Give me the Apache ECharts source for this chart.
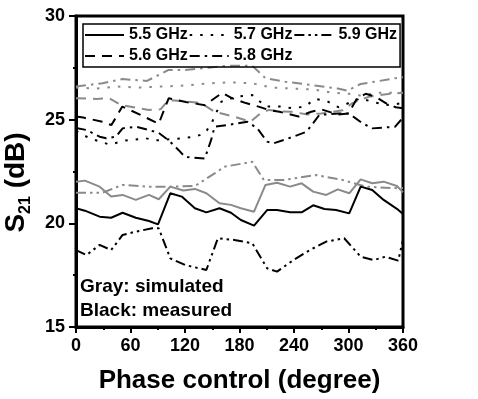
<!DOCTYPE html>
<html>
<head>
<meta charset="utf-8">
<script src="https://cdn.jsdelivr.net/npm/echarts@6/dist/echarts.min.js"></script>
<style>
  html, body { margin: 0; padding: 0; background: #fff; }
  #chart { width: 478px; height: 399px; }
</style>
</head>
<body>
<div id="chart"></div>
<script>
// [phase (deg), S21 (dB)]
const meas55 = [[0,20.73],[9.8,20.61],[26,20.32],[38.7,20.27],[51.3,20.51],[65.8,20.27],[80.3,20.11],[90.3,19.95],[103.8,21.45],[116.4,21.29],[130.9,20.73],[143.5,20.53],[158,20.73],[170.6,20.51],[181.5,20.16],[196,19.89],[210.4,20.64],[221.3,20.64],[235.7,20.53],[248.4,20.53],[261.1,20.87],[273.6,20.69],[286.3,20.64],[300.8,20.48],[313.4,21.77],[326.1,21.61],[338.7,21.13],[353.3,20.7],[360,20.45]]
const sim55 = [[0,22.01],[9.8,22.06],[26,21.77],[38.7,21.29],[51.3,21.37],[65.8,21.13],[80.3,21.37],[91.1,21.16],[103.8,21.77],[118.2,21.58],[130.9,21.66],[143.5,21.45],[158,20.97],[170.6,20.89],[181.5,20.73],[196,20.56],[208.6,21.85],[221.3,21.96],[235.7,21.77],[248.4,21.93],[261.1,21.53],[275.5,21.37],[288.2,21.64],[300.8,21.45],[313.4,22.12],[326.1,21.93],[338.7,22.01],[353.3,21.8],[360,21.5]]
const meas56 = [[0,25.15],[8,25.1],[29,24.9],[39,24.74],[51,25.63],[71,25.23],[91,24.8],[102,26.03],[121,25.85],[142,25.7],[161,26.3],[172,26.03],[187,25.8],[201,25.63],[212,25.47],[224,25.38],[245,25.15],[259,25.38],[270,25.5],[288,25.25],[300,25.3],[309,26.0],[319,26.25],[330,26.1],[341,25.8],[352,25.6],[360,25.55]]
const sim56 = [[0,26.03],[22.5,26.0],[36.9,26.03],[49.6,25.71],[80.3,25.47],[93,25.5],[102,25.95],[115,25.9],[137.7,25.8],[152.6,25.38],[174.3,25.14],[192,24.9],[203,25.3],[212.3,25.47],[226.7,25.4],[237.5,25.38],[255,25.25],[270,25.3],[293.6,25.45],[304.4,25.8],[322.1,26.1],[337,26.2],[351.4,26.27],[360,26.3]]
const meas57 = [[0,24.45],[15,24.1],[37,23.8],[55,24.0],[77,24.1],[88,24.0],[116,24.1],[131,24.18],[142,24.34],[150,24.9],[160,25.87],[176,26.1],[194,26.19],[209,25.63],[227,25.63],[238,25.55],[252,25.63],[263,26.0],[276,25.9],[289,25.6],[313,26.03],[326,25.87],[341,25.7],[352,25.75],[360,25.8]]
const sim57 = [[0,26.55],[22,26.5],[45,26.6],[70,26.55],[95,26.6],[120,26.65],[145,26.75],[170,26.8],[195,26.75],[215,26.55],[240,26.5],[262,26.45],[282,26.3],[300,26.25],[315,26.15],[330,26.3],[345,26.3],[360,26.3]]
const meas58 = [[0,24.6],[11.6,24.5],[26,24.18],[33.3,24.1],[44.1,24.18],[51.3,24.58],[65.8,24.66],[80.3,24.5],[91.1,24.36],[102,24.0],[112.8,23.54],[120.1,23.2],[141.8,23.13],[148.6,24.0],[152.6,24.66],[167,24.74],[188.7,24.9],[199.6,24.58],[210.4,23.94],[217.7,23.86],[239.4,24.18],[253.8,24.42],[261.1,24.83],[267.9,25.23],[289.6,25.3],[300.4,25.3],[315.3,24.83],[326.1,24.58],[351.4,24.66],[360,25.1]]
const sim58 = [[0,26.6],[29.3,26.76],[51,26.96],[78.1,26.87],[102,27.4],[120.1,27.4],[145.3,27.5],[167,27.6],[194.1,27.6],[208.6,27.0],[230.3,26.83],[259.2,26.67],[288.2,26.5],[299,26.4],[313.4,26.72],[331.6,26.85],[351.4,27.0],[360,27.05]]
const meas59 = [[0,18.71],[11.6,18.47],[26,18.96],[38.7,18.71],[51.3,19.44],[65.8,19.6],[83.8,19.76],[91.1,19.76],[103.8,18.31],[120.1,17.99],[143.5,17.75],[156.2,19.28],[174.3,19.2],[194.1,19.04],[210.4,17.83],[221.3,17.67],[239.4,18.23],[257.4,18.71],[275.5,19.12],[295.3,19.28],[313.4,18.39],[327.9,18.23],[340.6,18.39],[354.7,18.2],[360,19.2]]
const sim59 = [[0,21.48],[29.3,21.48],[51,21.85],[80.3,21.77],[105.2,21.77],[130.9,21.8],[152.6,22.41],[163.4,22.73],[194.1,22.97],[206.8,22.09],[228.5,22.09],[264.6,22.33],[293.6,22.09],[318.9,21.77],[354.7,21.69],[360,21.7]]

const legendNames = ['5.5 GHz', '5.7 GHz', '5.9 GHz', '5.6 GHz', '5.8 GHz']

const FONT = '"Liberation Sans", Arial, sans-serif'
const BLACK = '#000'
const GRAY = '#8a8a8a'

// dash patterns per frequency
const SOLID = 'solid'
const DASH = [10, 7]
const DOT = [2.5, 8]
const DASHDOT = [10, 5, 2.5, 5]
const DASHDOTDOT = [10, 4, 2.5, 4, 2.5, 4]

const line = (name, data, color, dash) => ({
  name,
  type: 'line',
  data,
  symbol: 'none',
  silent: true,
  z: color === BLACK ? 3 : 2,
  itemStyle: { color },
  lineStyle: { color, width: 2, type: dash, cap: 'butt' }
})

const chart = echarts.init(document.getElementById('chart'))
chart.setOption({
  animation: false,
  grid: { left: 76, right: 75, top: 16, bottom: 72, show: true, borderColor: BLACK, borderWidth: 3, outerBoundsMode: 'none' },
  legend: {
    data: legendNames,
    left: 83,
    top: 24,
    width: 314,
    itemWidth: 39,
    itemHeight: 14,
    itemGap: 1,
    padding: [1, 3, 1, 1],
    borderColor: BLACK,
    borderWidth: 1.5,
    lineStyle: { width: 2 },
    itemStyle: { color: 'rgba(0,0,0,0)', borderWidth: 0, opacity: 0 },
    selectedMode: false,
    textStyle: { fontFamily: FONT, fontWeight: 'bold', fontSize: 16, lineHeight: 20, color: BLACK }
  },
  xAxis: {
    type: 'value',
    min: 0,
    max: 360,
    interval: 60,
    name: 'Phase control (degree)',
    nameLocation: 'middle',
    nameGap: 41,
    nameTextStyle: { fontFamily: FONT, fontWeight: 'bold', fontSize: 26, color: BLACK },
    axisLine: { show: true, lineStyle: { color: BLACK, width: 3 } },
    axisTick: { show: true, inside: false, length: 6, lineStyle: { color: BLACK, width: 2 } },
    minorTick: { show: true, splitNumber: 2, length: 3, lineStyle: { color: BLACK, width: 2 } },
    axisLabel: { margin: 10, fontFamily: FONT, fontWeight: 'bold', fontSize: 18, color: BLACK },
    splitLine: { show: false }
  },
  yAxis: {
    type: 'value',
    min: 15,
    max: 30,
    interval: 5,
    name: '{a|S}{b|21}{a| (dB)}{s|}',
    nameLocation: 'middle',
    nameGap: 37,
    nameRotate: 90,
    nameTextStyle: {
      rich: {
        a: { fontFamily: FONT, fontWeight: 'bold', fontSize: 28, color: BLACK, lineHeight: 35 },
        b: { fontFamily: FONT, fontWeight: 'bold', fontSize: 16, color: BLACK, verticalAlign: 'bottom', lineHeight: 16 },
        s: { width: 22 }
      }
    },
    axisLine: { show: true, lineStyle: { color: BLACK, width: 3 } },
    axisTick: { show: true, inside: false, length: 7, lineStyle: { color: BLACK, width: 2 } },
    minorTick: { show: true, splitNumber: 2, length: 3, lineStyle: { color: BLACK, width: 2 } },
    axisLabel: { margin: 11, fontFamily: FONT, fontWeight: 'bold', fontSize: 18, color: BLACK },
    splitLine: { show: false }
  },
  graphic: [
    { type: 'text', left: 80, top: 277, style: { text: 'Gray: simulated', font: 'bold 19px ' + FONT, fill: BLACK } },
    { type: 'text', left: 80, top: 301, style: { text: 'Black: measured', font: 'bold 19px ' + FONT, fill: BLACK } }
  ],
  series: [
    line('5.5 GHz (sim)', sim55, GRAY, SOLID),
    line('5.6 GHz (sim)', sim56, GRAY, DASH),
    line('5.7 GHz (sim)', sim57, GRAY, DOT),
    line('5.8 GHz (sim)', sim58, GRAY, DASHDOT),
    line('5.9 GHz (sim)', sim59, GRAY, DASHDOTDOT),
    line('5.5 GHz', meas55, BLACK, SOLID),
    line('5.6 GHz', meas56, BLACK, DASH),
    line('5.7 GHz', meas57, BLACK, DOT),
    line('5.8 GHz', meas58, BLACK, DASHDOT),
    line('5.9 GHz', meas59, BLACK, DASHDOTDOT)
  ]
})
</script>
</body>
</html>
